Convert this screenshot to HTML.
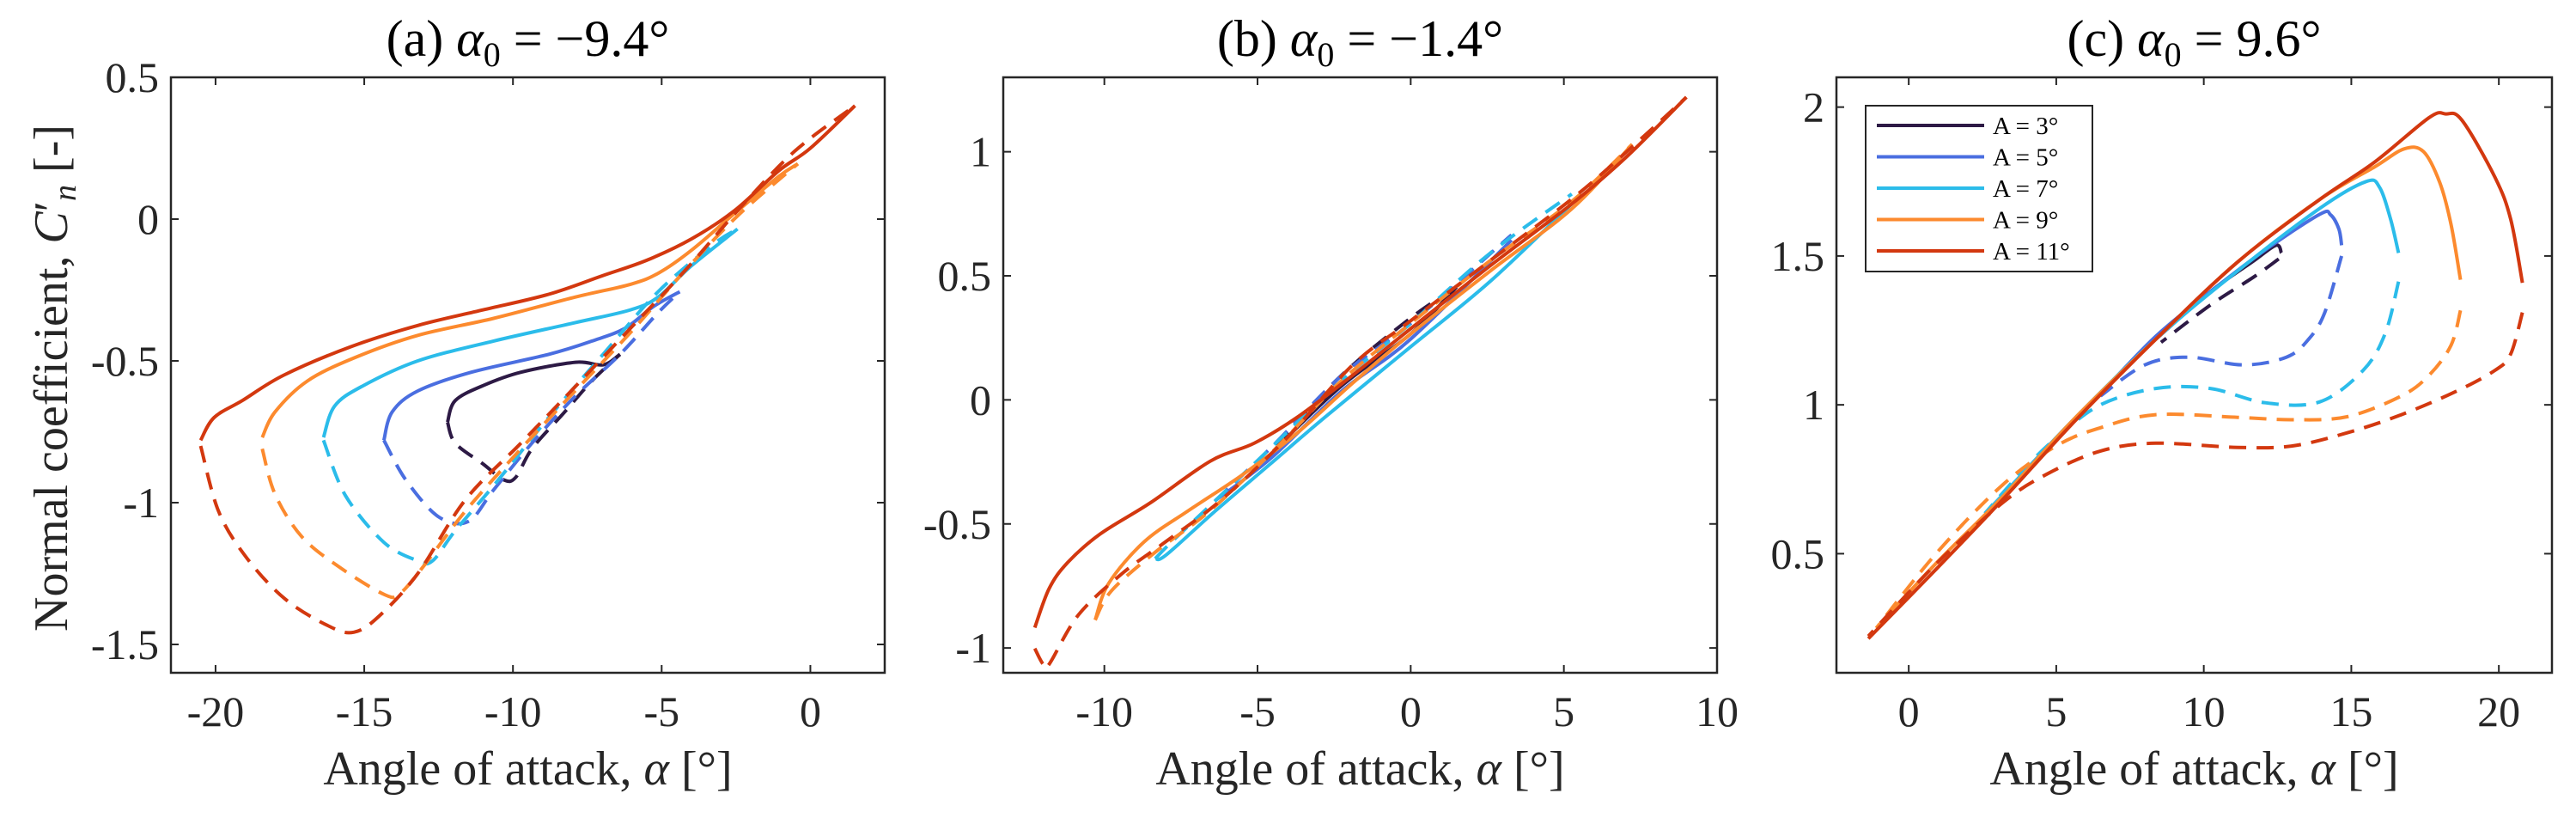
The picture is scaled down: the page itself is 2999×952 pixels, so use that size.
<!DOCTYPE html>
<html><head><meta charset="utf-8"><style>
html,body{margin:0;padding:0;background:#fff;}
svg{display:block;font-family:"Liberation Serif",serif;}
</style></head><body>
<svg id="fig" width="2999" height="952" viewBox="0 0 2999 952" xmlns="http://www.w3.org/2000/svg"></svg>
<script>
// ---- data (alpha [deg], Cn) ----
const pa_a3_up=[[-12.2,-0.716],[-11.94,-0.64],[-11.0,-0.587],[-9.73,-0.54],[-7.9,-0.505],[-6.97,-0.514],[-6.4,-0.477]];
const pa_a3_dn=[[-12.2,-0.716],[-11.94,-0.79],[-11.0,-0.864],[-10.3,-0.92],[-9.9,-0.91],[-9.36,-0.81],[-8.26,-0.68],[-7.34,-0.57],[-6.4,-0.477]];
const pa_a5_up=[[-14.34,-0.78],[-14.06,-0.68],[-13.2,-0.606],[-11.4,-0.54],[-8.8,-0.477],[-7.34,-0.43],[-6.23,-0.385],[-5.3,-0.31],[-4.39,-0.256]];
const pa_a5_dn=[[-14.34,-0.78],[-13.6,-0.92],[-12.5,-1.05],[-11.5,-1.066],[-10.65,-0.955],[-9.36,-0.79],[-7.9,-0.624],[-6.4,-0.477],[-5.12,-0.33],[-4.39,-0.256]];
const pa_a7_up=[[-16.37,-0.77],[-16.0,-0.66],[-15.08,-0.59],[-13.2,-0.5],[-10.65,-0.43],[-7.9,-0.365],[-6.05,-0.32],[-5.12,-0.275],[-4.0,-0.165],[-2.45,-0.035]];
const pa_a7_dn=[[-16.37,-0.78],[-15.63,-0.975],[-14.34,-1.14],[-13.2,-1.205],[-12.7,-1.205],[-11.95,-1.1],[-10.65,-0.94],[-8.8,-0.7],[-6.97,-0.477],[-5.12,-0.256],[-3.28,-0.09],[-2.45,-0.035]];
const pa_a9_up=[[-18.43,-0.77],[-18.0,-0.68],[-16.9,-0.57],[-15.26,-0.486],[-13.2,-0.41],[-10.65,-0.35],[-7.9,-0.275],[-6.05,-0.23],[-5.1,-0.19],[-4.0,-0.11],[-2.55,0.02],[-1.07,0.15],[-0.42,0.195]];
const pa_a9_dn=[[-18.43,-0.81],[-18.0,-0.97],[-17.1,-1.12],[-15.8,-1.23],[-14.3,-1.325],[-13.8,-1.32],[-13.05,-1.23],[-11.6,-1.03],[-9.73,-0.81],[-7.9,-0.605],[-6.05,-0.4],[-4.2,-0.18],[-2.36,0.02],[-0.42,0.195]];
const pa_a11_up=[[-20.5,-0.78],[-20.05,-0.7],[-19.1,-0.64],[-17.7,-0.55],[-15.45,-0.45],[-13.2,-0.375],[-11.0,-0.32],[-8.8,-0.265],[-7.0,-0.2],[-5.5,-0.145],[-4.0,-0.07],[-2.55,0.03],[-1.07,0.17],[0,0.25],[1.5,0.4]];
const pa_a11_dn=[[-20.5,-0.8],[-19.9,-1.03],[-18.95,-1.195],[-17.66,-1.34],[-16.2,-1.435],[-15.35,-1.457],[-14.5,-1.4],[-13.2,-1.25],[-11.6,-0.99],[-9.73,-0.79],[-7.9,-0.59],[-6.05,-0.385],[-4.2,-0.18],[-2.36,0.04],[-0.52,0.24],[1.5,0.4]];

const pb_a3_up=[[-4.4,-0.195],[-2.25,0.057],[0,0.266],[1.5,0.455]];
const pb_a3_dn=[[-4.4,-0.18],[-2.25,0.1],[0,0.33],[1.5,0.455]];
const pb_a5_up=[[-6.37,-0.405],[-4.58,-0.237],[-2.25,0.036],[0,0.245],[3.29,0.644]];
const pb_a5_dn=[[-6.37,-0.405],[-4.58,-0.195],[-2.25,0.099],[0,0.308],[3.29,0.665]];
const pb_a7_up=[[-8.34,-0.64],[-7.98,-0.625],[-6.37,-0.447],[-4.58,-0.258],[-2.79,-0.069],[0,0.214],[2.58,0.476],[5.26,0.79]];
const pb_a7_dn=[[-8.34,-0.64],[-7.8,-0.572],[-6.19,-0.384],[-4.4,-0.174],[-2.25,0.078],[0,0.308],[2.58,0.59],[5.26,0.83]];
const pb_a9_up=[[-10.3,-0.887],[-9.86,-0.74],[-8.7,-0.572],[-7.26,-0.447],[-5.47,-0.3],[-3.69,-0.132],[-1.9,0.067],[0,0.266],[2.58,0.518],[5.26,0.77],[7.23,1.03]];
const pb_a9_dn=[[-10.3,-0.887],[-9.77,-0.77],[-8.34,-0.614],[-6.55,-0.447],[-4.4,-0.195],[-2.25,0.078],[0,0.308],[2.58,0.56],[5.26,0.8],[7.23,1.03]];
const pb_a11_up=[[-12.27,-0.918],[-11.8,-0.76],[-11.2,-0.656],[-10.13,-0.54],[-8.5,-0.415],[-6.54,-0.247],[-5.1,-0.174],[-3.69,-0.069],[-1.9,0.099],[0,0.287],[2.58,0.539],[5.26,0.79],[7.05,0.98],[9.0,1.22]];
const pb_a11_dn=[[-12.27,-1.002],[-12.0,-1.065],[-11.8,-1.065],[-10.84,-0.866],[-9.4,-0.698],[-8.0,-0.572],[-6.2,-0.405],[-4.04,-0.153],[-1.9,0.14],[0,0.319],[2.58,0.56],[5.26,0.81],[7.05,1.0],[9.0,1.22]];

const pc_a3_up=[[8.37,1.22],[10.22,1.38],[11.7,1.484],[12.45,1.536],[12.63,1.51]];
const pc_a3_dn=[[12.54,1.49],[11.7,1.43],[10.22,1.335],[8.55,1.21]];
const pc_a5_up=[[6.5,1.037],[8.37,1.23],[10.22,1.38],[12.08,1.52],[13.93,1.64],[14.3,1.638],[14.58,1.59],[14.67,1.536]];
const pc_a5_dn=[[14.67,1.5],[14.1,1.31],[13.55,1.22],[12.8,1.16],[11.33,1.134],[9.48,1.16],[8.0,1.134],[6.5,1.03]];
const pc_a7_up=[[2.58,0.635],[3.17,0.696],[5.58,0.95],[8.37,1.22],[11.15,1.45],[13.93,1.66],[15.5,1.75],[15.96,1.73],[16.33,1.624],[16.6,1.51]];
const pc_a7_dn=[[16.6,1.414],[16.15,1.24],[15.4,1.116],[13.93,1.01],[12.08,1.007],[10.22,1.055],[8.37,1.055],[6.5,1.0],[5.0,0.889],[3.9,0.783],[2.58,0.635]];
const pc_a9_up=[[-1.1,0.25],[0.95,0.47],[3.17,0.69],[5.58,0.95],[8.37,1.22],[11.15,1.48],[13.93,1.69],[15.8,1.8],[16.8,1.86],[17.45,1.85],[18.0,1.746],[18.38,1.606],[18.7,1.42]];
const pc_a9_dn=[[18.7,1.317],[18.38,1.2],[17.64,1.1],[16.7,1.03],[14.86,0.96],[13.0,0.95],[11.15,0.958],[8.37,0.967],[6.5,0.923],[5.0,0.862],[3.17,0.73],[0.95,0.503],[-1.1,0.25]];
const pc_a11_up=[[-1.37,0.215],[0.95,0.45],[3.17,0.68],[5.58,0.94],[8.37,1.22],[11.15,1.48],[13.93,1.69],[15.8,1.816],[17.64,1.965],[18.2,1.977],[18.75,1.956],[19.87,1.764],[20.4,1.624],[20.8,1.41]];
const pc_a11_dn=[[20.8,1.31],[20.4,1.17],[19.87,1.116],[18.57,1.046],[16.7,0.967],[14.86,0.906],[13.0,0.862],[11.15,0.857],[8.37,0.871],[6.5,0.845],[4.66,0.766],[3.17,0.67],[0.95,0.468],[-1.37,0.223]];

const ampLabels=["A = 3°","A = 5°","A = 7°","A = 9°","A = 11°"];
const xTicksA=[-20,-15,-10,-5,0], yTicksA=[-1.5,-1,-0.5,0,0.5];
const xTicksB=[-10,-5,0,5,10], yTicksB=[-1,-0.5,0,0.5,1];
const xTicksC=[0,5,10,15,20], yTicksC=[0.5,1,1.5,2];

const colors=["#2d1a45","#4a6ee0","#2bbcea","#fc8a2e","#d3380f"];
const NS="http://www.w3.org/2000/svg";
const svg=document.getElementById('fig');
function mk(tag,attrs,parent){const e=document.createElementNS(NS,tag);for(const k in attrs)e.setAttribute(k,attrs[k]);(parent||svg).appendChild(e);return e;}

// smooth path (Catmull-Rom -> cubic Bezier) through screen points
function smoothPath(P){
  let d='M'+P[0][0].toFixed(1)+' '+P[0][1].toFixed(1);
  for(let i=0;i<P.length-1;i++){
    const p0=P[i-1]||P[i], p1=P[i], p2=P[i+1], p3=P[i+2]||P[i+1];
    const c1=[p1[0]+(p2[0]-p0[0])/6, p1[1]+(p2[1]-p0[1])/6];
    const c2=[p2[0]-(p3[0]-p1[0])/6, p2[1]-(p3[1]-p1[1])/6];
    d+=' C'+c1[0].toFixed(1)+' '+c1[1].toFixed(1)+' '+c2[0].toFixed(1)+' '+c2[1].toFixed(1)+' '+p2[0].toFixed(1)+' '+p2[1].toFixed(1);
  }
  return d;
}

const panels=[
 {id:'a',L:199,R:1030,T:90,B:783,x0:-21.5,x1:2.5,y0:-1.6,y1:0.5,xt:xTicksA,yt:yTicksA,title:['(a) ','−9.4°'],
  series:[[pa_a3_up,pa_a3_dn],[pa_a5_up,pa_a5_dn],[pa_a7_up,pa_a7_dn],[pa_a9_up,pa_a9_dn],[pa_a11_up,pa_a11_dn]]},
 {id:'b',L:1168,R:1999,T:90,B:783,x0:-13.3,x1:10,y0:-1.1,y1:1.3,xt:xTicksB,yt:yTicksB,title:['(b) ','−1.4°'],
  series:[[pb_a3_up,pb_a3_dn],[pb_a5_up,pb_a5_dn],[pb_a7_up,pb_a7_dn],[pb_a9_up,pb_a9_dn],[pb_a11_up,pb_a11_dn]]},
 {id:'c',L:2138,R:2971,T:90,B:783,x0:-2.45,x1:21.8,y0:0.1,y1:2.1,xt:xTicksC,yt:yTicksC,title:['(c) ','9.6°'],
  series:[[pc_a3_up,pc_a3_dn],[pc_a5_up,pc_a5_dn],[pc_a7_up,pc_a7_dn],[pc_a9_up,pc_a9_dn],[pc_a11_up,pc_a11_dn]]}
];

panels.forEach(p=>{
  const sx=v=>p.L+(v-p.x0)/(p.x1-p.x0)*(p.R-p.L);
  const sy=v=>p.B-(v-p.y0)/(p.y1-p.y0)*(p.B-p.T);
  const g=mk('g',{});
  
  
  const cid='clip'+p.id;
  const cp=mk('clipPath',{id:cid},g); mk('rect',{x:p.L,y:p.T,width:p.R-p.L,height:p.B-p.T},cp);
  const lines=mk('g',{'clip-path':'url(#'+cid+')'},g);
  p.series.forEach((s,i)=>{
    [0,1].forEach(k=>{
      const d=smoothPath(s[k].map(pt=>[sx(pt[0]),sy(pt[1])]));
      const path=mk('path',{d:d,fill:'none',stroke:colors[i],'stroke-width':4,'stroke-linejoin':'round','stroke-dasharray':k?'20 12':'none'},lines);
      
      
    });
  });
  const fr=mk('rect',{x:p.L,y:p.T,width:p.R-p.L,height:p.B-p.T,fill:'none',stroke:'#262626','stroke-width':2.5},g);
  
  
  p.xt.forEach(v=>{
    const x=sx(v);
    mk('line',{x1:x,x2:x,y1:p.B,y2:p.B-9,stroke:'#262626','stroke-width':2},g);
    mk('line',{x1:x,x2:x,y1:p.T,y2:p.T+9,stroke:'#262626','stroke-width':2},g);
    const t=mk('text',{x:x,y:p.B+62,'font-size':50,'text-anchor':'middle',fill:'#262626'},g);
    t.textContent=String(v);
    
    
  });
  p.yt.forEach(v=>{
    const y=sy(v);
    mk('line',{x1:p.L,x2:p.L+9,y1:y,y2:y,stroke:'#262626','stroke-width':2},g);
    mk('line',{x1:p.R,x2:p.R-9,y1:y,y2:y,stroke:'#262626','stroke-width':2},g);
    const t=mk('text',{x:p.L-14,y:y+17,'font-size':50,'text-anchor':'end',fill:'#262626'},g);
    t.textContent=String(v);
    
    
  });
  const cx=(p.L+p.R)/2;
  const xl=mk('text',{x:cx,y:913,'font-size':56,'text-anchor':'middle',fill:'#262626'},g);
  xl.innerHTML='Angle of attack, <tspan font-style="italic">α</tspan> [°]';
  
  
  const tt=mk('text',{x:cx,y:65,'font-size':60,'text-anchor':'middle',fill:'#000'},g);
  tt.innerHTML=p.title[0]+'<tspan font-style="italic">α</tspan><tspan font-size="40" dy="12">0</tspan><tspan dy="-12"> = '+p.title[1]+'</tspan>';
  
  
});

// y-axis title
const yl=mk('text',{x:0,y:0,'font-size':56,'text-anchor':'middle',fill:'#262626',transform:'translate(78,440) rotate(-90)'});
yl.innerHTML='Normal coefficient, <tspan font-style="italic">C</tspan>′<tspan font-style="italic" font-size="38" dy="10">n</tspan><tspan dy="-10"> [-]</tspan>';



// legend
const lg=mk('g',{});


mk('rect',{x:2172,y:123,width:264,height:193,fill:'#fff',stroke:'#262626','stroke-width':2},lg);
ampLabels.forEach((lab,i)=>{
  const y=146+i*36.5;
  const ln=mk('line',{x1:2185,x2:2310,y1:y,y2:y,stroke:colors[i],'stroke-width':4},lg);
  
  
  const t=mk('text',{x:2320,y:y+10,'font-size':29,fill:'#000'},lg);
  t.textContent=lab;
  
  
});
</script>
</body></html>
